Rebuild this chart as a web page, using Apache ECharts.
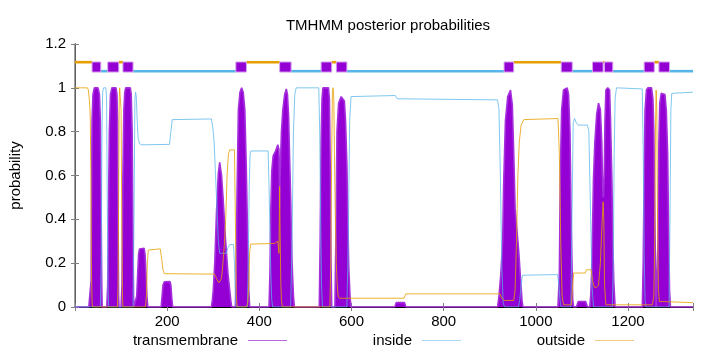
<!DOCTYPE html>
<html>
<head>
<meta charset="utf-8">
<script src="https://cdn.jsdelivr.net/npm/echarts@6/dist/echarts.min.js"></script>
<style>html,body{margin:0;padding:0;background:#fff}#c{width:720px;height:352px}</style>
</head>
<body>
<div id="c"></div>
<script>
const titleText = 'TMHMM posterior probabilities';
const yName = 'probability';
const seriesNames = ['transmembrane', 'inside', 'outside'];
const xMax = 1341;
const xTickStep = 200;
const yTicks = [0, 0.2, 0.4, 0.6, 0.8, 1, 1.2];

// predicted topology (top bar)
const tmSegments = [[37,56],[71,95],[104,126],[349,372],[444,469],[534,557],[567,590],[931,952],[1055,1079],[1123,1146],[1149,1167],[1235,1257],[1267,1290]];
const insideSegments = [[56,71],[126,349],[469,534],[590,931],[1079,1123],[1167,1235],[1290,1341]];
const outsideSegments = [[0,37],[95,104],[372,444],[557,567],[952,1055],[1146,1149],[1257,1267]];

// posterior probability curves [residue, probability]
const tmCurve = [[0,0],[30,0],[32,0.05],[35,0.12],[36,0.5],[37,0.85],[39,0.97],[42,1.0],[50,1.0],[53,0.97],[55,0.85],[56.5,0.5],[58,0.1],[59,0],
[69,0],[71,0.1],[73,0.5],[74.5,0.8],[77,0.97],[80,1.0],[89,1.0],[91,0.97],[92.5,0.85],[93.5,0.4],[94.5,0.05],[95.5,0],
[100,0],[102,0.1],[104,0.6],[106,0.9],[108,0.98],[110,1.0],[120,1.0],[122,0.97],[124,0.8],[125.5,0.4],[127,0.05],[128,0],
[132,0],[134,0.05],[136,0.15],[138,0.24],[140,0.265],[150,0.268],[152,0.24],[154,0.15],[156,0.05],[158,0],
[187,0],[189,0.05],[191,0.1],[194,0.115],[206,0.116],[208,0.1],[210,0.04],[212,0],
[296,0],[298,0.03],[300,0.075],[303.5,0.21],[307,0.43],[311,0.61],[314,0.66],[318,0.6],[321.5,0.49],[326.5,0.31],[332,0.15],[338,0.03],[340,0],
[348,0],[349.5,0.1],[351.5,0.5],[354.5,0.9],[358,0.98],[361.5,1.0],[365,0.98],[368.5,0.9],[371.5,0.65],[374.5,0.33],[377,0.08],[379,0],
[421,0],[423,0.15],[425,0.45],[427,0.62],[430,0.69],[435,0.71],[440,0.74],[442.5,0.72],[444,0.45],[445,0.6],[448,0.8],[451,0.9],[455,0.97],[458.5,0.995],[461,0.97],[463.5,0.87],[466,0.65],[468,0.49],[471,0.2],[474,0.05],[476,0],
[530,0],[532,0.3],[534,0.75],[536,0.95],[538,1.0],[550,1.0],[552,0.95],[554,0.6],[555.5,0.2],[557,0],
[564,0],[566,0.3],[568.5,0.8],[572,0.93],[577.5,0.96],[584.5,0.94],[587,0.85],[590,0.65],[592,0.4],[594,0.18],[597,0.04],[599,0],
[694,0],[697,0.02],[715,0.02],[718,0],
[917,0],[920,0.05],[924,0.15],[928,0.3],[930,0.55],[934,0.85],[939,0.96],[945,0.99],[949,0.92],[952,0.7],[955,0.45],[959,0.35],[963,0.25],[967,0.12],[970,0.03],[972,0],
[1048,0],[1051,0.15],[1053,0.6],[1056,0.9],[1060,0.99],[1068,1.0],[1071,0.97],[1074,0.8],[1077,0.35],[1080,0.03],[1082,0],
[1088,0],[1092,0.025],[1108,0.025],[1112,0],
[1117,0],[1119,0.05],[1121,0.15],[1123,0.35],[1125,0.58],[1128,0.75],[1132,0.88],[1136,0.93],[1140,0.9],[1143,0.75],[1145,0.55],[1146.5,0.5],[1148.5,0.6],[1150,0.85],[1152,0.99],[1156,1.0],[1160,0.99],[1162,0.85],[1165,0.58],[1167,0.3],[1169,0.12],[1172,0],
[1231,0],[1233,0.2],[1235,0.6],[1237,0.9],[1240,0.99],[1243,1.0],[1251,1.0],[1254,0.95],[1256,0.8],[1258,0.45],[1260,0.1],[1261,0],
[1263,0],[1265,0.3],[1267,0.75],[1269,0.93],[1272,0.975],[1276,0.983],[1280,0.97],[1283,0.9],[1286,0.7],[1288,0.35],[1290,0.08],[1292,0],
[1341,0]];

const insideCurve = [[0,0],[55,0],[57,0.2],[58.5,0.8],[60,0.98],[62,1.0],[67,1.0],[68.5,0.95],[70,0.5],[71.5,0.1],[73,0],
[126,0],[128,0.4],[130,0.95],[131.5,0.98],[133,0.96],[135,0.85],[137,0.77],[140,0.745],[145,0.74],[205,0.742],[208,0.8],[211,0.855],[296,0.858],[299,0.82],[302,0.75],[305,0.6],[308,0.45],[311,0.3],[314,0.245],[328,0.245],[332,0.27],[336,0.285],[344,0.285],[346,0.2],[348,0.03],[350,0],
[374,0],[376,0.2],[378,0.55],[380,0.7],[382,0.712],[419,0.712],[421,0.55],[423,0.35],[425,0.15],[427,0.03],[429,0],
[468,0],[471,0.3],[474,0.8],[477,0.97],[480,1.0],[529,1.0],[531,0.8],[533,0.4],[535,0.1],[537,0],
[590,0],[593,0.3],[596,0.85],[599,0.96],[602,0.965],[695,0.965],[699,0.95],[917,0.945],[920,0.9],[923,0.6],[926,0.2],[929,0.02],[932,0],
[962,0],[965,0.03],[968,0.1],[971,0.145],[975,0.148],[1047,0.148],[1050,0.1],[1053,0.02],[1055,0],
[1076,0],[1079,0.5],[1081,0.84],[1084,0.86],[1088,0.84],[1092,0.83],[1112,0.83],[1115,0.8],[1119,0.4],[1122,0.1],[1125,0],
[1166,0],[1168,0.2],[1170,0.7],[1172,0.95],[1175,1.0],[1231,0.995],[1233,0.7],[1235,0.25],[1237,0.03],[1239,0],
[1289,0],[1291,0.4],[1293,0.9],[1295,0.975],[1298,0.98],[1341,0.98]];

const outsideCurve = [[0,1.0],[27,1.0],[29,0.99],[31,0.95],[33,0.88],[34.5,0.6],[35.5,0.2],[37,0.02],[38,0],
[92,0],[93.5,0.1],[95,0.6],[96,0.95],[97,1.0],[99,1.0],[100,0.9],[101.5,0.4],[103,0.05],[104,0],
[153,0],[155,0.05],[157,0.2],[159,0.26],[185,0.265],[188,0.22],[191,0.17],[194,0.152],[303,0.15],[307,0.13],[312,0.11],[315,0.105],[318,0.13],[321,0.2],[324,0.28],[327,0.4],[330,0.6],[333,0.7],[336,0.717],[346,0.717],[348,0.4],[350,0.05],[352,0],
[372,0],[375,0.02],[377,0.1],[379,0.25],[381,0.287],[433,0.29],[440,0.3],[442.5,0.245],[444,0.55],[445,0.35],[446.5,0.12],[448,0.03],[450,0],
[553,0],[555,0.2],[557,0.7],[558.5,0.97],[560,1.0],[561.5,0.95],[563,0.7],[565,0.4],[567,0.2],[569,0.1],[571,0.05],[574,0.04],[714,0.04],[718,0.06],[922,0.06],[926,0.04],[932,0.03],[952,0.03],[955,0.08],[958,0.3],[961,0.6],[964,0.75],[968,0.83],[974,0.855],[1048,0.86],[1051,0.7],[1054,0.3],[1057,0.05],[1060,0.01],[1077,0.01],[1080,0.1],[1082,0.155],[1107,0.155],[1110,0.17],[1120,0.17],[1123,0.12],[1127,0.09],[1132,0.09],[1136,0.1],[1140,0.2],[1143,0.35],[1146,0.48],[1147.5,0.4],[1149,0.1],[1152,0.01],[1253,0.01],[1256,0.05],[1258,0.3],[1259.5,0.8],[1261,0.99],[1262.5,0.9],[1264,0.4],[1266,0.08],[1268,0.025],[1341,0.02]];

const C_TM = '#9400D3', C_IN = '#56B4E9', C_OUT = '#E69F00';
const FONT = 'Liberation Sans, Arial, sans-serif';
const FS = 15;
const barLevels = {outside: 1.117, inside: 1.076, boxTop: 1.118, boxBottom: 1.072};

const topBars = [];
outsideSegments.forEach(s => topBars.push([s[0], s[1], 0]));
insideSegments.forEach(s => topBars.push([s[0], s[1], 1]));
tmSegments.forEach(s => topBars.push([s[0], s[1], 2]));

function renderBar(params, api) {
  const s = api.value(0), e = api.value(1), k = api.value(2);
  if (k === 2) {
    const p1 = api.coord([s, barLevels.boxTop]);
    const p2 = api.coord([e, barLevels.boxBottom]);
    return {type: 'rect', shape: {x: p1[0], y: p1[1], width: p2[0] - p1[0], height: p2[1] - p1[1]},
      style: {fill: C_TM, stroke: '#d6a3ee', lineWidth: 1}};
  }
  const lvl = k === 0 ? barLevels.outside : barLevels.inside;
  const p1 = api.coord([s, lvl]);
  const p2 = api.coord([e, lvl]);
  return {type: 'rect', shape: {x: p1[0], y: p1[1] - 1.3, width: p2[0] - p1[0], height: 2.6},
    style: {fill: k === 0 ? C_OUT : C_IN}};
}

function mkLegend(name, right, color) {
  return {
    data: [{name: name, itemStyle: {color: color}}],
    right: right, top: 333, padding: 0, align: 'right',
    icon: 'rect', itemWidth: 39, itemHeight: 1,
    textStyle: {fontFamily: FONT, fontSize: FS, lineHeight: 15, color: '#000', padding: [0, 5, 0, 0]}
  };
}

const chart = echarts.init(document.getElementById('c'), null, {renderer: 'canvas'});
chart.setOption({
  animation: false,
  backgroundColor: '#fff',
  title: {text: titleText, left: 383, top: 13, textAlign: 'center',
    textStyle: {fontFamily: FONT, fontSize: FS, fontWeight: 'normal', color: '#000'}},
  legend: [mkLegend(seriesNames[0], 433, '#b769e3'), mkLegend(seriesNames[1], 259, '#a6d8f3'), mkLegend(seriesNames[2], 86, '#f0cc80')],
  grid: {left: 73, right: 27, top: 44, bottom: 45},
  xAxis: [{
    type: 'value', min: 0, max: xMax, interval: xTickStep,
    axisLine: {onZero: false, lineStyle: {color: '#808080', width: 1.5}},
    axisTick: {inside: true, length: 4, lineStyle: {color: '#808080'}},
    axisLabel: {margin: 7, fontFamily: FONT, fontSize: FS, color: '#000',
      formatter: v => (v > 0 && v % xTickStep === 0) ? String(v) : ''},
    splitLine: {show: false}
  }, {
    type: 'value', position: 'top', min: 0, max: xMax, interval: xTickStep,
    axisLine: {lineStyle: {color: '#000', width: 1}},
    axisTick: {inside: true, length: 4, lineStyle: {color: '#808080'}},
    axisLabel: {show: false}, splitLine: {show: false}
  }],
  yAxis: [{
    type: 'value', min: yTicks[0], max: yTicks[yTicks.length - 1], interval: 0.2,
    name: yName, nameLocation: 'middle', nameGap: 52, nameRotate: 90,
    nameTextStyle: {fontFamily: FONT, fontSize: FS, color: '#000'},
    axisLine: {show: true, lineStyle: {color: '#000', width: 1}},
    axisTick: {show: true, inside: true, length: 4, lineStyle: {color: '#808080'}},
    axisLabel: {margin: 9, fontFamily: FONT, fontSize: FS, color: '#000'},
    splitLine: {show: false}
  }, {
    type: 'value', position: 'right', min: yTicks[0], max: yTicks[yTicks.length - 1], interval: 0.2,
    axisLine: {show: true, lineStyle: {color: '#808080', width: 1.5}},
    axisTick: {show: true, inside: true, length: 4, lineStyle: {color: '#808080'}},
    axisLabel: {show: false}, splitLine: {show: false}
  }],
  series: [
    {name: seriesNames[0], type: 'line', data: tmCurve, showSymbol: false, z: 2,
      lineStyle: {color: '#a530dc', width: 1.6}, itemStyle: {color: C_TM},
      areaStyle: {color: C_TM, opacity: 1}},
    {name: seriesNames[1], type: 'line', data: insideCurve, showSymbol: false, z: 3,
      lineStyle: {color: C_IN, width: 1, opacity: 0.75}, itemStyle: {color: C_IN}},
    {name: seriesNames[2], type: 'line', data: outsideCurve, showSymbol: false, z: 4,
      lineStyle: {color: C_OUT, width: 1, opacity: 0.8}, itemStyle: {color: C_OUT}},
    {name: 'topology', type: 'custom', data: topBars, renderItem: renderBar, z: 5,
      encode: {x: [0, 1], y: 2}, silent: true}
  ]
});
</script>
</body>
</html>
